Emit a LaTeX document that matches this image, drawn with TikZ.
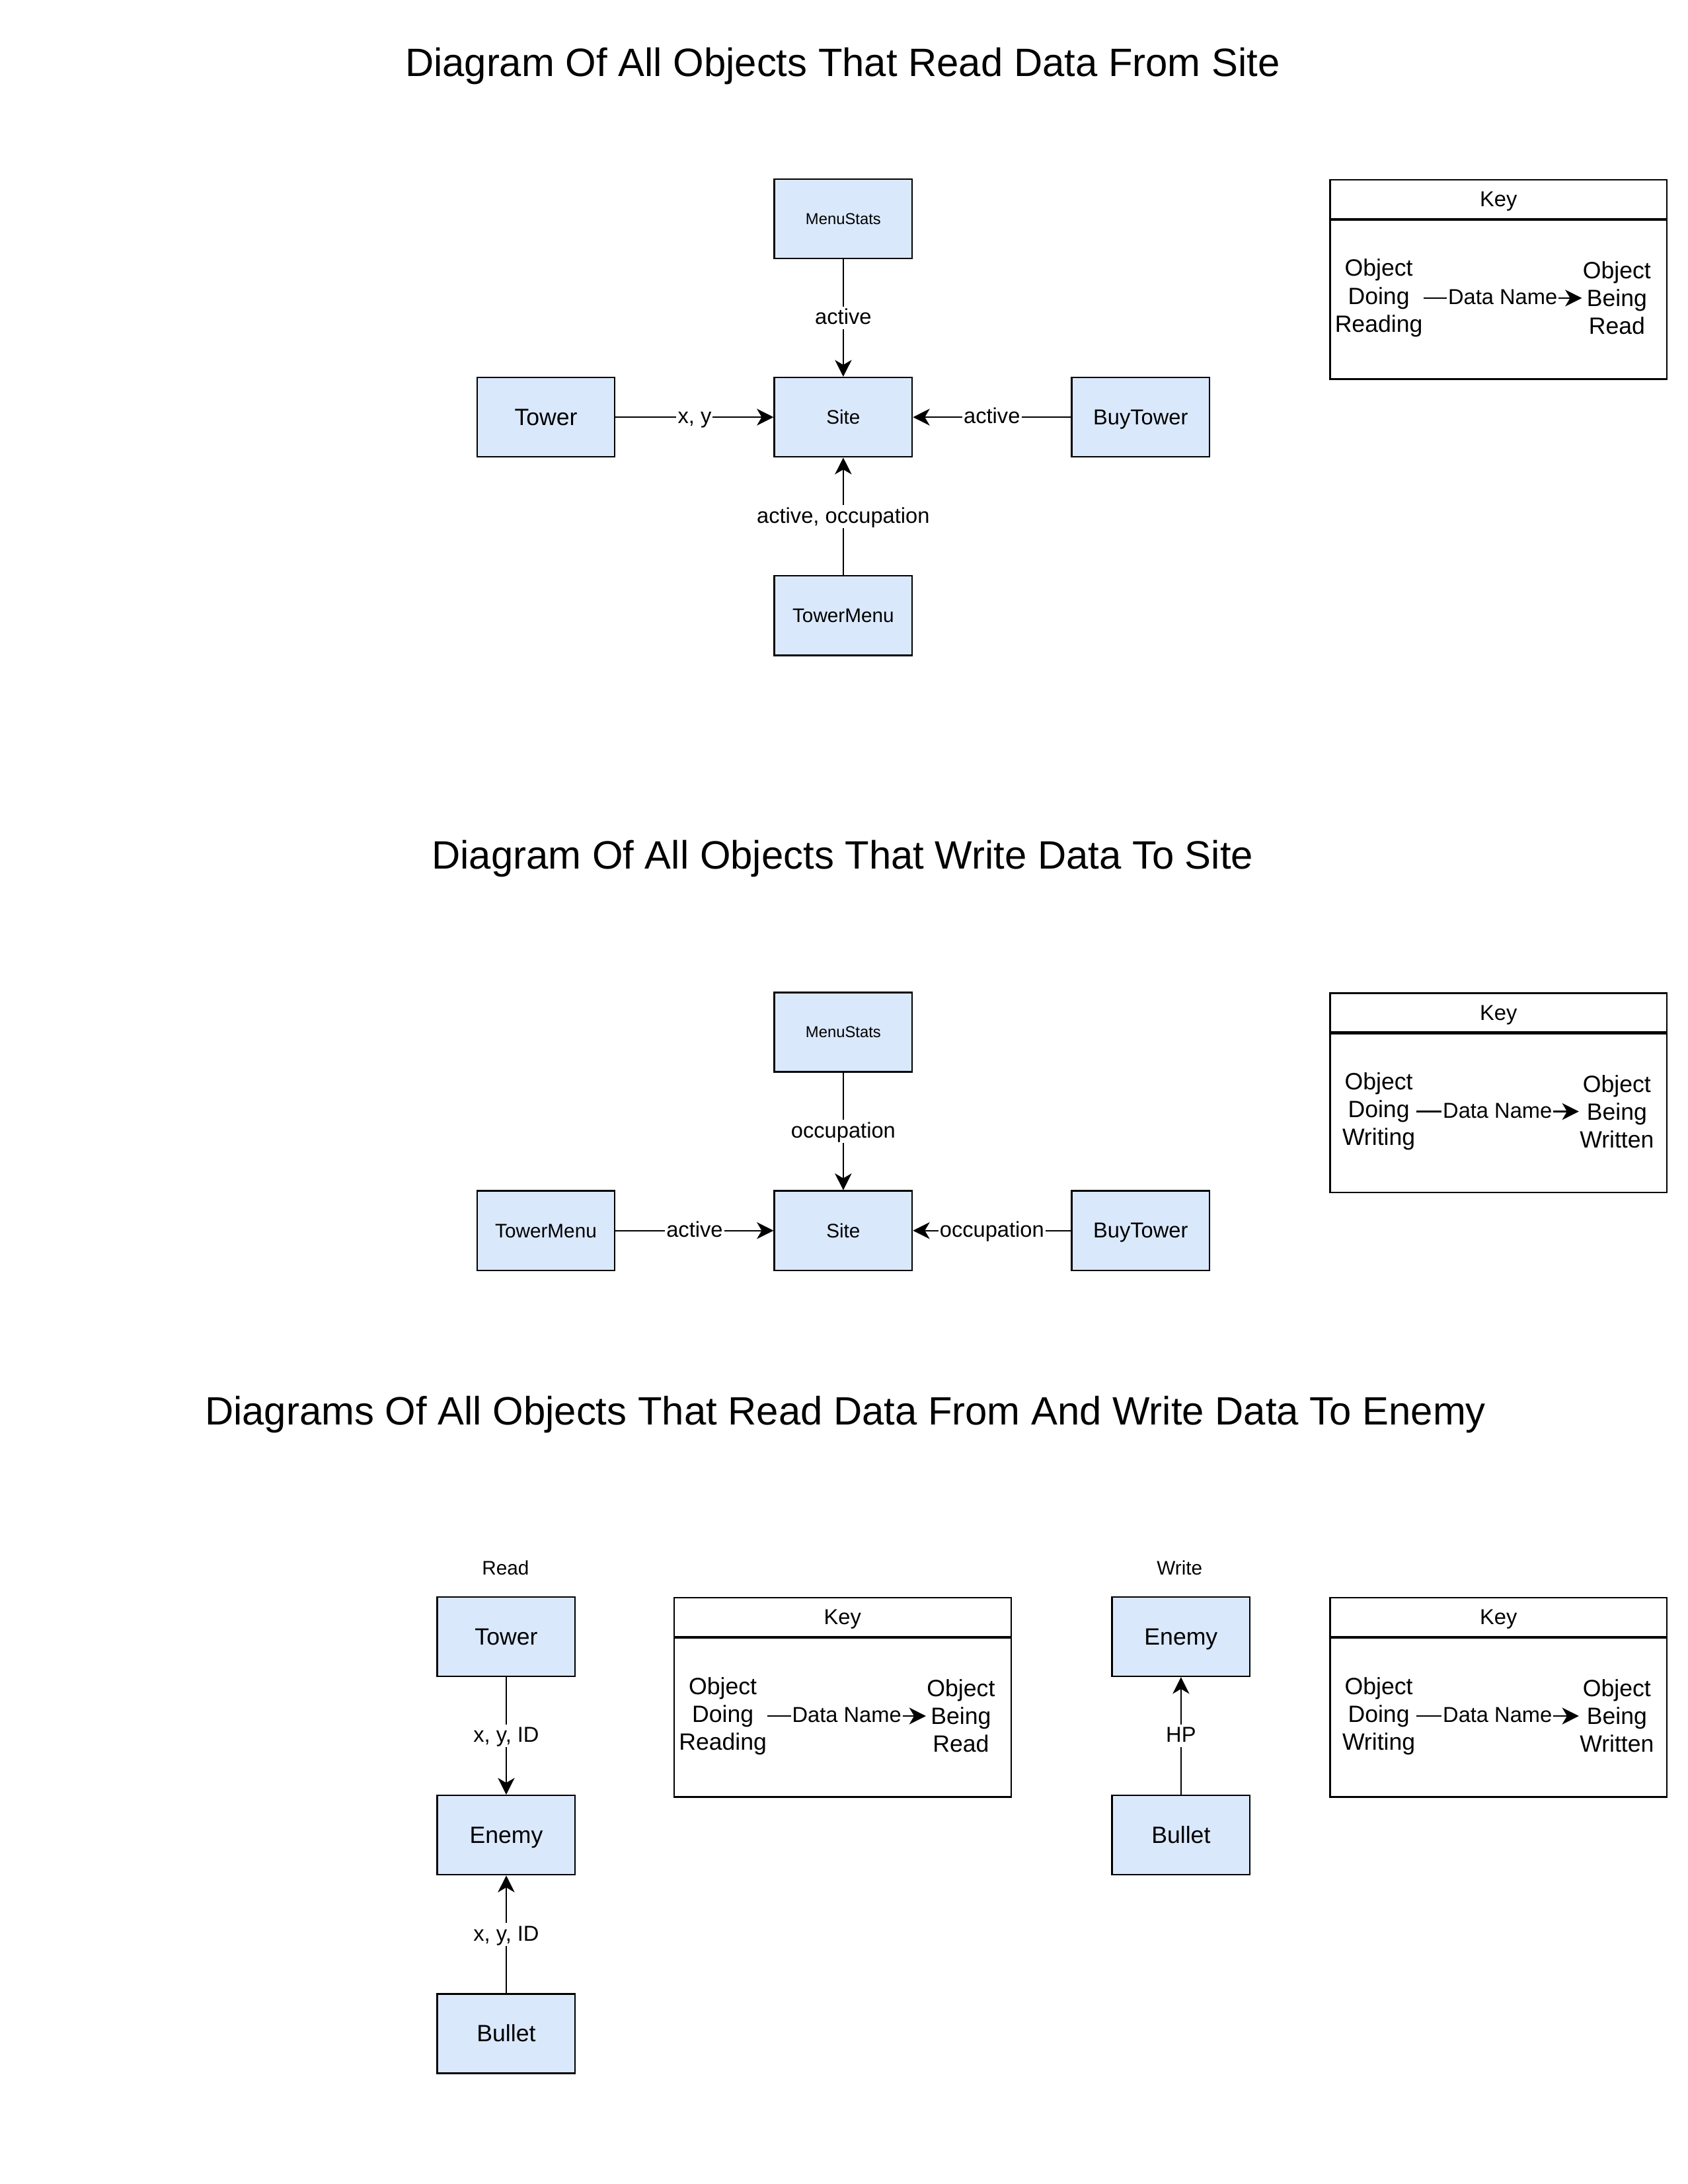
\documentclass[tikz,border=0pt]{standalone}
\usepackage{fontspec}
\setmainfont{Liberation Sans}
\usetikzlibrary{arrows.meta}
\definecolor{boxfill}{HTML}{DAE8FC}
\tikzset{
  % single-line text sizes, with a fixed line box so that text sits centred
  f12/.style={font=\fontsize{16.9}{20}\selectfont, text height=15.3pt, text depth=3.6pt},
  f11/.style={font=\fontsize{15.5}{18}\selectfont, text height=14.0pt, text depth=3.3pt},
  f10/.style={font=\fontsize{14.1}{17}\selectfont, text height=12.8pt, text depth=3.0pt},
  f8/.style={font=\fontsize{11.3}{13.5}\selectfont, text height=10.2pt, text depth=2.4pt},
  title/.style={font=\fontsize{28.4}{34}\selectfont, text height=25.7pt, text depth=6.0pt},
  obj/.style={draw=black, fill=boxfill, line width=1.1pt, minimum width=99pt, minimum height=57pt, inner sep=1pt},
  conn/.style={line width=1.1pt, -{Stealth[length=12pt, width=12pt, inset=3.5pt]}},
  lbl/.style={fill=white, inner xsep=1pt, inner ysep=0.5pt, text height=12.4pt, text depth=3.1pt, font=\fontsize{15.5}{18}\selectfont},
  keybody/.style={draw=black, line width=1.1pt, minimum width=242pt, minimum height=114pt, inner sep=0pt},
  keyhead/.style={f11, draw=black, line width=1.1pt, minimum width=242pt, minimum height=28pt, inner sep=0pt},
  keytxt/.style={align=center, inner xsep=0.5pt, inner ysep=2pt, font=\fontsize{16.9}{20}\selectfont},
}
\begin{document}
\begin{tikzpicture}[x=1pt, y=-1pt]
\useasboundingbox[fill=white] (0,0) rectangle (1212,1568);

% ---------- Reading from Site ----------
\node[title] (t1) at (605,45) {Diagram Of All Objects That Read Data From Site};
\node[obj, f8]  (ms1)   at (605.5,157)   {MenuStats};
\node[obj, f10] (site1) at (605.5,299.5) {Site};
\node[obj, f12] (tw1)   at (392,299.5)   {Tower};
\node[obj, f11] (bt1)   at (819,299.5)   {BuyTower};
\node[obj, f10] (tm1)   at (605.5,442)   {TowerMenu};
\draw[conn] (ms1) -- node[lbl] {active} (site1);
\draw[conn] (tw1) -- node[lbl] {x, y} (site1);
\draw[conn] (bt1) -- node[lbl] {active} (site1);
\draw[conn] (tm1) -- node[lbl] {active, occupation} (site1);

\node[keyhead] (k1h) at (1076,143) {Key};
\node[keybody, anchor=north] (k1) at (k1h.south) {};
\node[keytxt] (k1l) at (990,214) {Object\\Doing\\Reading};
\node[keytxt] (k1r) at (1161,214) {Object\\Being\\Read};
\draw[conn] (k1l) -- node[lbl] {Data Name} (k1r);

% ---------- Writing to Site ----------
\node[title] (t2) at (605,614) {Diagram Of All Objects That Write Data To Site};
\node[obj, f8]  (ms2)   at (605.5,741)   {MenuStats};
\node[obj, f10] (site2) at (605.5,883.5) {Site};
\node[obj, f10] (tm2)   at (392,883.5)   {TowerMenu};
\node[obj, f11] (bt2)   at (819,883.5)   {BuyTower};
\draw[conn] (ms2) -- node[lbl] {occupation} (site2);
\draw[conn] (tm2) -- node[lbl] {active} (site2);
\draw[conn] (bt2) -- node[lbl] {occupation} (site2);

\node[keyhead] (k2h) at (1076,727) {Key};
\node[keybody, anchor=north] (k2) at (k2h.south) {};
\node[keytxt] (k2l) at (990,798) {Object\\Doing\\Writing};
\node[keytxt] (k2r) at (1161,798) {Object\\Being\\Written};
\draw[conn] (k2l) -- node[lbl] {Data Name} (k2r);

% ---------- Enemy ----------
\node[title] (t3) at (607,1013) {Diagrams Of All Objects That Read Data From And Write Data To Enemy};

\node[f10] (rd) at (363,1126) {Read};
\node[obj, f12] (tw3) at (363.5,1175)   {Tower};
\node[obj, f12] (en3) at (363.5,1317.5) {Enemy};
\node[obj, f12] (bu3) at (363.5,1460)   {Bullet};
\draw[conn] (tw3) -- node[lbl] {x, y, ID} (en3);
\draw[conn] (bu3) -- node[lbl] {x, y, ID} (en3);

\node[keyhead] (k3h) at (605,1161) {Key};
\node[keybody, anchor=north] (k3) at (k3h.south) {};
\node[keytxt] (k3l) at (519,1232) {Object\\Doing\\Reading};
\node[keytxt] (k3r) at (690,1232) {Object\\Being\\Read};
\draw[conn] (k3l) -- node[lbl] {Data Name} (k3r);

\node[f10] (wr) at (847,1126) {Write};
\node[obj, f12] (en4) at (848,1175)   {Enemy};
\node[obj, f12] (bu4) at (848,1317.5) {Bullet};
\draw[conn] (bu4) -- node[lbl] {HP} (en4);

\node[keyhead] (k4h) at (1076,1161) {Key};
\node[keybody, anchor=north] (k4) at (k4h.south) {};
\node[keytxt] (k4l) at (990,1232) {Object\\Doing\\Writing};
\node[keytxt] (k4r) at (1161,1232) {Object\\Being\\Written};
\draw[conn] (k4l) -- node[lbl] {Data Name} (k4r);
\end{tikzpicture}
\end{document}
